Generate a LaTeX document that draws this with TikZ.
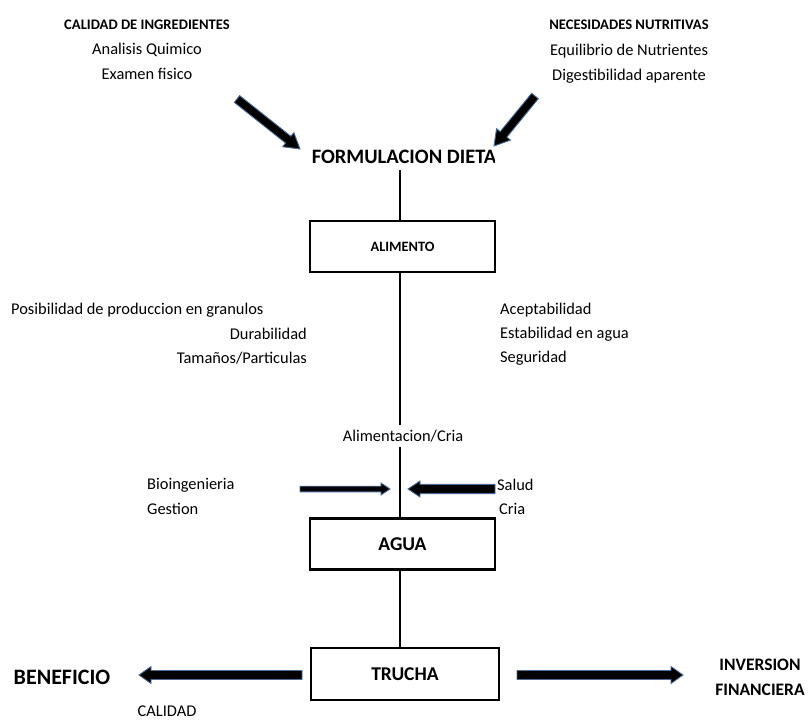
\documentclass[tikz,border=0pt]{standalone}
\usepackage{fontspec}
\setmainfont{Carlito}
\usetikzlibrary{calc}
\definecolor{arrowedge}{RGB}{72,108,150}

% block arrow from #1 to #2: shaft half-width #3, head half-width #4, head length #5
\newcommand\blockarrow[5]{%
  \coordinate (ba-h) at ($(#2)!#5!(#1)$);
  \filldraw[blockarrow]
    ($(#1)!#3!90:(#2)$) -- ($(ba-h)!#3!90:(#2)$) -- ($(ba-h)!#4!90:(#2)$)
    -- (#2) -- ($(ba-h)!#4!-90:(#2)$) -- ($(ba-h)!#3!-90:(#2)$)
    -- ($(#1)!#3!-90:(#2)$) -- cycle;}

\begin{document}
\begin{tikzpicture}[x=1pt,y=-1pt,
  head/.style={inner sep=0pt, font=\bfseries\fontsize{14.6}{16}\selectfont},
  txt/.style={inner sep=0pt, font=\fontsize{16.4}{18}\selectfont},
  box/.style={draw, line width=2.2pt, inner sep=0pt, minimum width=185pt, minimum height=51pt},
  conn/.style={line width=1.3pt},
  blockarrow/.style={fill=black, draw=arrowedge, line width=0.9pt, line join=miter}]
\useasboundingbox[fill=white] (0,0) rectangle (809,720);

% sources of the formulation
\node[head] (ingr) at (147,25) {CALIDAD DE INGREDIENTES};
\node[txt] (quim) at (147,50) {Analisis Quimico};
\node[txt] (fis) at (147,74) {Examen fisico};
\node[head] (nutr) at (629,25) {NECESIDADES NUTRITIVAS};
\node[txt] (equi) at (629,51) {Equilibrio de Nutrientes};
\node[txt] (dige) at (629,76) {Digestibilidad aparente};

% diet formulation title, trimmed on the right
\begin{scope}
  \clip (300,138) rectangle (494,176);
  \node[inner sep=0pt, font=\bfseries\fontsize{20.5}{24}\selectfont] (form) at (404,157) {FORMULACION DIETA};
\end{scope}
\coordinate (a1) at (237,99);  \coordinate (a1t) at (300,149);
\coordinate (a2) at (535,96);  \coordinate (a2t) at (494,146);
\blockarrow{a1}{a1t}{4.3pt}{9pt}{15pt}
\blockarrow{a2}{a2t}{4.3pt}{9pt}{15pt}

% feed
\node[box, font=\bfseries\fontsize{14.3}{16}\selectfont] (alim) at (402.5,246.5) {ALIMENTO};
\coordinate (f0) at (400,170);
\draw[conn] (f0) -- (f0 |- alim.north);
\coordinate (f1) at (400,425);
\draw[conn] (f1 |- alim.south) -- (f1);

\node[txt, anchor=west] (gran) at (11,310) {Posibilidad de produccion en granulos};
\node[txt, anchor=east] (dura) at (307,334) {Durabilidad};
\node[txt, anchor=east] (tama) at (307,358) {Tamaños/Particulas};
\node[txt, anchor=west] (acep) at (500,310) {Aceptabilidad};
\node[txt, anchor=west] (esta) at (500,334) {Estabilidad en agua};
\node[txt, anchor=west] (segu) at (500,358) {Seguridad};

% water
\node[txt] (cria) at (403,436) {Alimentacion/Cria};
\node[box, font=\bfseries\fontsize{19.5}{22}\selectfont] (agua) at (402.5,544) {AGUA};
\draw[conn] (400,447) -- (400,519);

\node[txt, anchor=west] (bioi) at (147,485) {Bioingenieria};
\node[txt, anchor=west] (gest) at (147,509) {Gestion};
\node[txt, anchor=west] (salu) at (497,485) {Salud};
\node[txt, anchor=west] (cri2) at (499,509) {Cria};
\coordinate (b1) at (300,489);  \coordinate (b1t) at (390,489);
\coordinate (b2) at (495,489);  \coordinate (b2t) at (408,489);
\blockarrow{b1}{b1t}{2.8pt}{6pt}{9pt}
\blockarrow{b2}{b2t}{4.6pt}{8pt}{12pt}

% trout
\node[box, minimum width=188pt, minimum height=52pt, font=\bfseries\fontsize{19.5}{22}\selectfont] (truc) at (405,674) {TRUCHA};
\draw[conn] (400,569) -- (400,648);
\node[inner sep=0pt, font=\bfseries\fontsize{22}{24}\selectfont] (bene) at (62,677) {BENEFICIO};
\node[inner sep=0pt, align=center, font=\bfseries\fontsize{17.5}{25}\selectfont] (inve) at (760,677) {INVERSION\\FINANCIERA};
\node[txt] (cali) at (167,711) {CALIDAD};
\coordinate (c1) at (302,675);  \coordinate (c1t) at (139,675);
\coordinate (c2) at (517,675);  \coordinate (c2t) at (683,675);
\blockarrow{c1}{c1t}{4.5pt}{8.5pt}{12pt}
\blockarrow{c2}{c2t}{4.5pt}{8.5pt}{12pt}
\end{tikzpicture}
\end{document}
